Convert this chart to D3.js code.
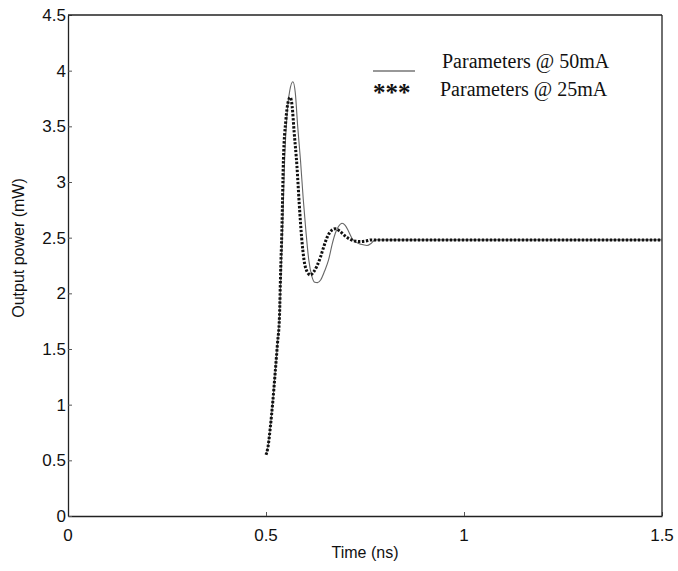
<!DOCTYPE html>
<html>
<head>
<meta charset="utf-8">
<script src="https://cdn.jsdelivr.net/npm/d3@7"></script>
<style>
  html, body { margin: 0; padding: 0; background: #fff; }
  svg { display: block; }
  .tick-label { font-family: "Liberation Sans", Arial, sans-serif; font-size: 17px; fill: #111; }
  .axis-title { font-family: "Liberation Sans", Arial, sans-serif; font-size: 16px; fill: #111; }
  .legend-text { font-family: "Liberation Serif", "Times New Roman", serif; font-size: 20px; fill: #111; }
</style>
</head>
<body>
<svg id="chart" width="678" height="571"></svg>
<script>
// Laser step response: output power vs time for two parameter sets
const time50 = [0.500, 0.505, 0.511, 0.517, 0.523, 0.529, 0.534, 0.538, 0.542, 0.547, 0.553, 0.560, 0.568, 0.574, 0.580, 0.587, 0.594, 0.601, 0.608, 0.616, 0.623, 0.630, 0.638, 0.648, 0.658, 0.667, 0.675, 0.683, 0.692, 0.700, 0.708, 0.717, 0.727, 0.740, 0.755, 0.766, 0.776, 0.900, 1.100, 1.300, 1.500];
const power50 = [0.55, 0.62, 0.80, 1.02, 1.28, 1.55, 1.79, 2.20, 2.60, 3.20, 3.60, 3.82, 3.90, 3.80, 3.50, 3.20, 2.85, 2.55, 2.30, 2.15, 2.10, 2.096, 2.12, 2.20, 2.30, 2.44, 2.54, 2.60, 2.63, 2.61, 2.56, 2.495, 2.46, 2.44, 2.43, 2.45, 2.48, 2.48, 2.48, 2.48, 2.48];

const time25 = [0.500, 0.505, 0.511, 0.517, 0.523, 0.529, 0.534, 0.537, 0.540, 0.544, 0.550, 0.556, 0.561, 0.566, 0.571, 0.578, 0.584, 0.590, 0.596, 0.603, 0.612, 0.620, 0.628, 0.637, 0.646, 0.654, 0.664, 0.675, 0.686, 0.698, 0.710, 0.724, 0.738, 0.752, 0.766, 0.780, 0.900, 1.100, 1.300, 1.500];
const power25 = [0.55, 0.62, 0.80, 1.02, 1.28, 1.55, 1.79, 2.20, 2.55, 3.20, 3.55, 3.72, 3.76, 3.68, 3.45, 3.15, 2.80, 2.50, 2.30, 2.20, 2.165, 2.19, 2.24, 2.32, 2.42, 2.50, 2.56, 2.58, 2.56, 2.52, 2.49, 2.47, 2.465, 2.47, 2.48, 2.48, 2.48, 2.48, 2.48, 2.48];

const xTicks = [0, 0.5, 1, 1.5];
const xTickLabels = ["0", "0.5", "1", "1.5"];
const yTicks = [0, 0.5, 1, 1.5, 2, 2.5, 3, 3.5, 4, 4.5];
const yTickLabels = ["0", "0.5", "1", "1.5", "2", "2.5", "3", "3.5", "4", "4.5"];

const legendLabels = ["Parameters @ 50mA", "Parameters @ 25mA"];

const W = 678, H = 571;
const margin = { left: 68, top: 15, right: W - 662, bottom: H - 516 };
const svg = d3.select("#chart");

const x = d3.scaleLinear().domain([0, 1.5]).range([margin.left, W - margin.right]);
const y = d3.scaleLinear().domain([0, 4.5]).range([H - margin.bottom, margin.top]);

// Axes with inward ticks (labels drawn separately)
const xAxis = d3.axisBottom(x).tickValues(xTicks).tickSizeInner(-4).tickSizeOuter(0).tickFormat("");
const yAxis = d3.axisLeft(y).tickValues(yTicks).tickSizeInner(-4).tickSizeOuter(0).tickFormat("");

const gx = svg.append("g").attr("transform", `translate(0,${y(0)})`).call(xAxis);
const gy = svg.append("g").attr("transform", `translate(${x(0)},0)`).call(yAxis);
[gx, gy].forEach(g => {
  g.selectAll("path").attr("stroke", "#222").attr("stroke-width", 1.3);
  g.selectAll("line").attr("stroke", "#555").attr("stroke-width", 1);
});

// Box frame top and right
svg.append("line").attr("x1", x(0)).attr("x2", x(1.5)).attr("y1", y(4.5)).attr("y2", y(4.5))
  .attr("stroke", "#222").attr("stroke-width", 1.3);
svg.append("line").attr("x1", x(1.5)).attr("x2", x(1.5)).attr("y1", y(4.5)).attr("y2", y(0))
  .attr("stroke", "#222").attr("stroke-width", 1.3);

// Tick labels
svg.selectAll(".xlab").data(xTicks).enter().append("text")
  .attr("class", "tick-label")
  .attr("x", d => x(d))
  .attr("y", y(0) + 25)
  .attr("text-anchor", "middle")
  .text((d, i) => xTickLabels[i]);

svg.selectAll(".ylab").data(yTicks).enter().append("text")
  .attr("class", "tick-label")
  .attr("x", x(0) - 2)
  .attr("y", d => y(d) + 6)
  .attr("text-anchor", "end")
  .text((d, i) => yTickLabels[i]);

// Axis titles
svg.append("text").attr("class", "axis-title")
  .attr("x", (x(0) + x(1.5)) / 2).attr("y", 558)
  .attr("text-anchor", "middle").text("Time (ns)");

svg.append("text").attr("class", "axis-title")
  .attr("transform", `translate(24,${248}) rotate(-90)`)
  .attr("text-anchor", "middle").text("Output power (mW)");

// Curves
const line = d3.line().x(d => x(d[0])).y(d => y(d[1])).curve(d3.curveMonotoneX);

const data50 = time50.map((t, i) => [t, power50[i]]);
const data25 = time25.map((t, i) => [t, power25[i]]);

svg.append("path").datum(data50)
  .attr("d", line)
  .attr("fill", "none")
  .attr("stroke", "#666")
  .attr("stroke-width", 1.1);

svg.append("path").datum(data25)
  .attr("d", line)
  .attr("fill", "none")
  .attr("stroke", "#111")
  .attr("stroke-width", 3)
  .attr("stroke-dasharray", "2.4 1.6");

// Legend
svg.append("line").attr("x1", 373).attr("x2", 415).attr("y1", 71).attr("y2", 71)
  .attr("stroke", "#333").attr("stroke-width", 1.2);
svg.append("text").attr("class", "legend-text").attr("x", 442).attr("y", 68).text(legendLabels[0]);

svg.append("text").attr("class", "legend-text").attr("x", 373).attr("y", 101)
  .style("font-size", "25px").style("font-weight", "bold").text("***");
svg.append("text").attr("class", "legend-text").attr("x", 440).attr("y", 96).text(legendLabels[1]);
</script>
</body>
</html>
